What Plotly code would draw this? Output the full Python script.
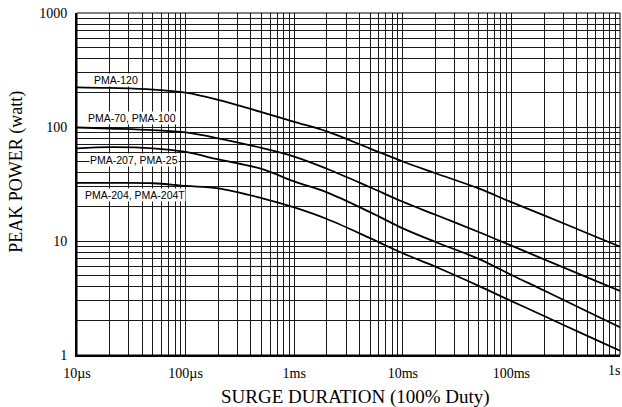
import plotly.graph_objects as go

# Surge duration (seconds)
duration = [1e-5, 2e-5, 5e-5, 1e-4, 2e-4, 5e-4, 1e-3, 2e-3, 5e-3,
            1e-2, 2e-2, 5e-2, 1e-1, 2e-1, 5e-1, 1.0]

# Peak power (watt)
pma_120 = [223, 220, 213, 200, 173, 135, 111, 91.4, 64.7,
           49.8, 39.3, 28.9, 21.9, 16.8, 11.7, 8.9]
pma_70_100 = [99, 97, 94, 89.6, 79.6, 65.5, 55, 43, 29.6,
              22.1, 17, 12, 9.1, 6.9, 4.8, 3.64]
pma_207_25 = [65, 66.5, 65, 60.4, 52, 42.9, 33.3, 26.7, 17.9,
              12.9, 9.8, 6.97, 5.03, 3.68, 2.41, 1.75]
pma_204_204t = [32.4, 32.3, 32.1, 30.4, 29, 23.8, 19.7, 15.6, 10.6,
                7.8, 5.94, 4.04, 2.97, 2.2, 1.47, 1.09]

series_names = ["PMA-120", "PMA-70, PMA-100", "PMA-207, PMA-25", "PMA-204, PMA-204T"]
series_values = [pma_120, pma_70_100, pma_207_25, pma_204_204t]
# label anchor positions (log10 duration, log10 power)
label_x = [-4.641, -4.494, -4.471, -4.466]
label_y = [2.412, 2.079, 1.711, 1.404]

x_tickvals = [1e-5, 1e-4, 1e-3, 1e-2, 1e-1, 1]
x_ticktext = ["10µs", "100µs", "1ms", "10ms", "100ms", ""]
last_x_label = "1s"
y_tickvals = [1, 10, 100, 1000]
y_ticktext = ["1", "10", "100", "1000"]

x_minor = [k * 10.0 ** d for d in range(-5, 0) for k in range(2, 10)]
y_minor = [k * 10.0 ** d for d in range(0, 3) for k in range(2, 10)]

fig = go.Figure()
for name, vals in zip(series_names, series_values):
    fig.add_trace(go.Scatter(x=duration, y=vals, mode="lines", name=name,
                             line=dict(color="black", width=1.8, shape="spline", smoothing=1.0),
                             showlegend=False, hoverinfo="skip"))

for name, lx, ly in zip(series_names, label_x, label_y):
    fig.add_annotation(x=lx, y=ly, xref="x", yref="y", text=name, showarrow=False,
                       font=dict(family="Liberation Sans, Arial, sans-serif", size=10.5, color="black"),
                       bgcolor="white", borderpad=0)

serif = "Liberation Serif, Times New Roman, serif"
grid_col = "#1a1a1a"

fig.update_xaxes(type="log", range=[-5, 0], tickmode="array", tickvals=x_tickvals,
                 ticktext=x_ticktext, showgrid=True, gridcolor=grid_col, gridwidth=1,
                 minor=dict(tickmode="array", tickvals=x_minor, showgrid=True,
                            gridcolor=grid_col, gridwidth=1, ticks=""),
                 showline=True, linecolor="black", linewidth=2, ticks="",
                 tickfont=dict(family=serif, size=14, color="black"),
                 ticklabelstandoff=4, ticklabeloverflow="allow", zeroline=False)
fig.update_yaxes(type="log", range=[0, 3], tickmode="array", tickvals=y_tickvals,
                 ticktext=y_ticktext, showgrid=True, gridcolor=grid_col, gridwidth=1,
                 minor=dict(tickmode="array", tickvals=y_minor, showgrid=True,
                            gridcolor=grid_col, gridwidth=1, ticks=""),
                 showline=True, linecolor="black", linewidth=2, ticks="",
                 tickfont=dict(family=serif, size=14, color="black"),
                 ticklabelstandoff=5, zeroline=False)

fig.add_shape(type="rect", xref="paper", yref="paper", x0=0, x1=1, y0=0, y1=1,
              line=dict(color="black", width=1), layer="above")

# last x tick label, kept inside the figure edge
fig.add_annotation(xref="paper", yref="paper", x=1.0035, y=-0.044, text=last_x_label,
                   showarrow=False, font=dict(family=serif, size=14, color="black"),
                   xanchor="right", yanchor="middle")

fig.add_annotation(xref="paper", yref="paper", x=0.512, y=-0.124, text="SURGE DURATION (100% Duty)",
                   showarrow=False, font=dict(family=serif, size=19, color="black"),
                   xanchor="center", yanchor="middle")
fig.add_annotation(xref="paper", yref="paper", x=-0.113, y=0.535, text="PEAK POWER (watt)",
                   showarrow=False, textangle=-90, font=dict(family=serif, size=18, color="black"),
                   xanchor="center", yanchor="middle")

fig.update_layout(width=622, height=407, margin=dict(l=77, r=2, t=13, b=52, autoexpand=False),
                  paper_bgcolor="white", plot_bgcolor="white")

fig.write_html("out.html", config={"displayModeBar": False},
               post_script="document.body.style.margin='0';")
